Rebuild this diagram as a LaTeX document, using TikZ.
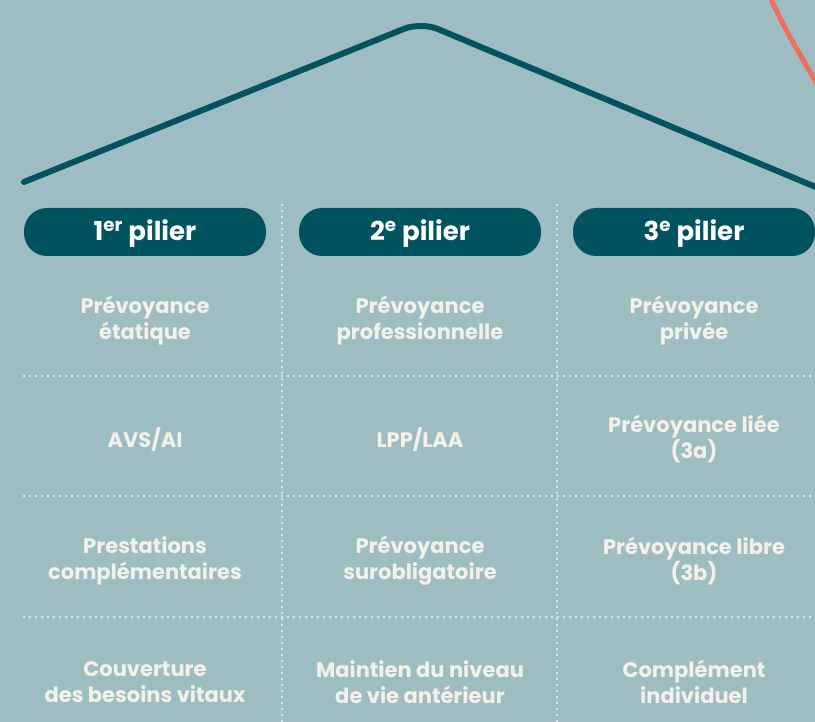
\documentclass[tikz,border=0pt]{standalone}
\usepackage{fontspec}
\setmainfont{Poppins}
\usetikzlibrary{positioning,calc}
\definecolor{bgteal}{HTML}{9EBDC3}
\definecolor{darkteal}{HTML}{00535F}
\definecolor{coral}{HTML}{EE6F5E}
\definecolor{offwhite}{HTML}{F4F1EA}
\tikzstyle{pilier}=[fill=darkteal,rounded corners=23pt,minimum width=242pt,minimum height=48pt,text=white,font=\bfseries\fontsize{26}{28}\selectfont,inner sep=0pt,text height=20pt,text depth=2pt]
\tikzstyle{cell}=[text=offwhite,align=center,font=\bfseries\fontsize{21}{26}\selectfont,inner sep=0pt]
\tikzstyle{dots}=[offwhite,line width=2.4pt,line cap=round,dash pattern=on 0pt off 6pt]

\begin{document}
\begin{tikzpicture}[x=1pt,y=-1pt]
\useasboundingbox (0,0) rectangle (815,722);
\fill[bgteal] (0,0) rectangle (815,722);
\clip (0,0) rectangle (815,722);
% roof and coral arc
\draw[coral,line width=5pt] (769,-5) .. controls (785,30) and (800,55) .. (822,92);
\draw[darkteal,line width=6pt,line cap=round,rounded corners=18pt] (24,182) -- (421,22) -- (830,193);
% dotted grid
\coordinate (v1t) at (282,205); \coordinate (v1b) at (282,722);
\coordinate (v2t) at (557,205); \coordinate (v2b) at (557,722);
\draw[dots] (v1t) -- (v1b);
\draw[dots] (v2t) -- (v2b);
\foreach \y in {376,496,617}
  \draw[dots] (24,\y) -- (815,\y);
% pillars
\node[pilier] (p1) at (145,232) {1\textsuperscript{er} pilier};
\node[pilier] (p2) at (420,232) {2\textsuperscript{e} pilier};
\node[pilier] (p3) at (694,232) {3\textsuperscript{e} pilier};
% rows
\node[cell] (a1) at (145,321) {Prévoyance\\étatique};
\node[cell] (b1) at (420,321) {Prévoyance\\professionnelle};
\node[cell] (c1) at (694,321) {Prévoyance\\privée};
\node[cell] (a2) at (145,439) {AVS/AI};
\node[cell] (b2) at (420,439) {LPP/LAA};
\node[cell] (c2) at (694,439) {Prévoyance liée\\(3a)};
\node[cell] (a3) at (145,561) {Prestations\\complémentaires};
\node[cell] (b3) at (420,561) {Prévoyance\\surobligatoire};
\node[cell] (c3) at (694,561) {Prévoyance libre\\(3b)};
\node[cell] (a4) at (145,682) {Couverture\\des besoins vitaux};
\node[cell] (b4) at (420,682) {Maintien du niveau\\de vie antérieur};
\node[cell] (c4) at (694,682) {Complément\\individuel};
\end{tikzpicture}
\end{document}
